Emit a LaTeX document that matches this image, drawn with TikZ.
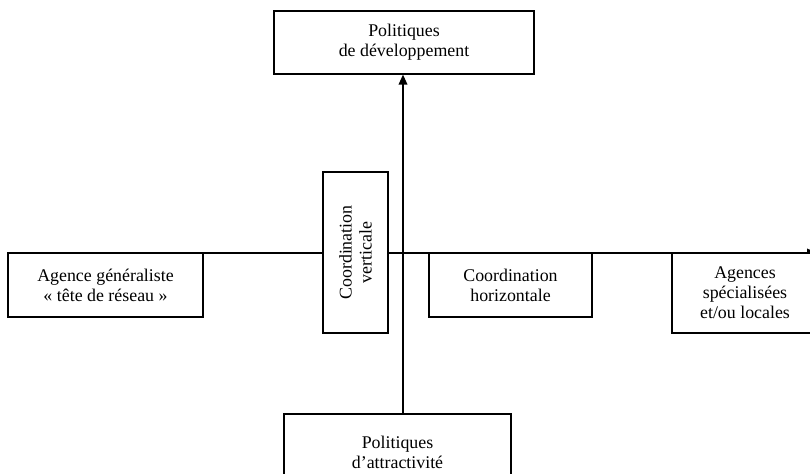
\documentclass[tikz,border=0pt]{standalone}
\usepackage{fontspec}
\setmainfont{Liberation Serif}
\usepackage{tikz}
\usetikzlibrary{arrows.meta,positioning,calc}
\tikzset{
  polbox/.style={rectangle, draw=black, fill=white, line width=0.9pt,
                 inner sep=2pt, align=center, font=\fontsize{13.4}{15}\selectfont},
  axisline/.style={-{Triangle[length=7.5pt,width=6.5pt]}, line width=1pt, black},
}

\begin{document}
\begin{tikzpicture}[x=0.75pt,y=-0.75pt]
  \useasboundingbox (0,0) rectangle (810,474);

  % horizontal axis
  \coordinate (hstart) at (8,253);
  \coordinate (hend) at (817,253);
  \draw[axisline] (hstart) -- (hend);

  % boxes
  \node[polbox, minimum width=195pt, minimum height=47.25pt] (dev) at (404,42.5) {Politiques\\de développement};
  \node[polbox, minimum width=146.25pt, minimum height=48pt] (gen) at (105.5,285) {Agence généraliste\\« tête de réseau »};
  \node[polbox, rotate=90, minimum width=120.75pt, minimum height=48.75pt] (vert) at (355.5,252.5) {Coordination\\verticale};
  \node[polbox, minimum width=122.25pt, minimum height=48pt] (horiz) at (510.5,285) {Coordination\\horizontale};
  \node[polbox, minimum width=109.5pt, minimum height=60pt] (spec) at (745,293) {Agences\\spécialisées\\et/ou locales};
  \node[polbox, minimum width=170.25pt, minimum height=57pt] (attr) at (397.5,452) {Politiques\\d’attractivité};

  % vertical axis
  \coordinate (vaxis) at (403,0);
  \draw[axisline] (attr.north -| vaxis) -- (dev.south -| vaxis);
\end{tikzpicture}
\end{document}
